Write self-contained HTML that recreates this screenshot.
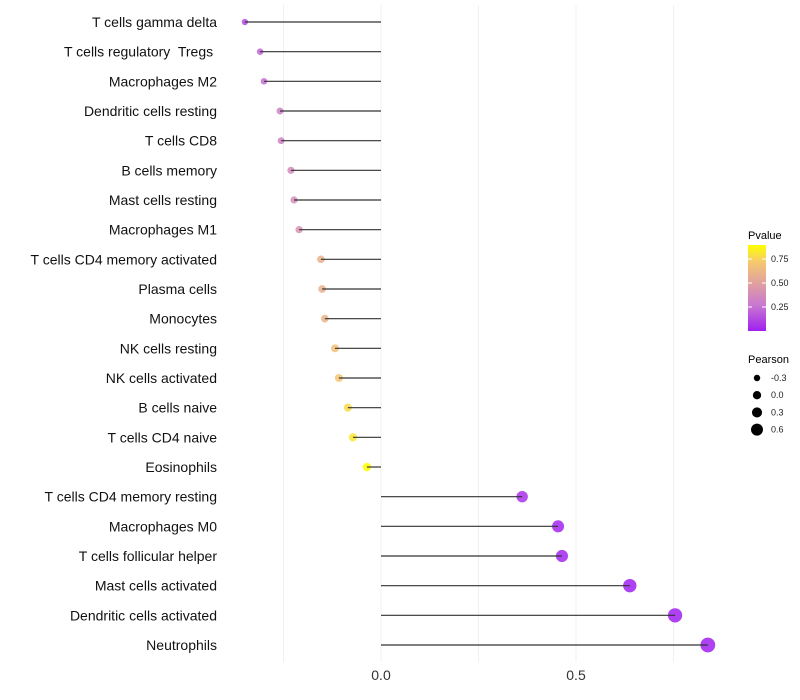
<!DOCTYPE html>
<html><head><meta charset="utf-8"><style>
body{margin:0;background:#fff;font-family:"Liberation Sans",sans-serif}
svg{display:block}
#ylabels text{white-space:pre}
</style></head><body>
<svg id="chart" width="800" height="700">
<defs><linearGradient id="pg" x1="0" y1="1" x2="0" y2="0">
<stop offset="0" stop-color="#a020f0"/><stop offset="0.3" stop-color="#c878d0"/><stop offset="0.55" stop-color="#e0a0a0"/><stop offset="0.8" stop-color="#f5c870"/><stop offset="1" stop-color="#ffff00"/></linearGradient></defs>
<g id="grid"></g>
<g id="marks"></g>
<g id="ylabels"></g>
<g id="xlabels"></g>
<g>
<text x="748" y="239" font-size="11">Pvalue</text>
<rect x="748" y="245" width="18" height="86" fill="url(#pg)"/>
<g id="cbticks"></g>
</g>
<g id="sizeleg">
<text x="748" y="363" font-size="11">Pearson</text>
</g>
</svg>
<script>
const categories=["T cells gamma delta","T cells regulatory  Tregs ","Macrophages M2","Dendritic cells resting","T cells CD8","B cells memory","Mast cells resting","Macrophages M1","T cells CD4 memory activated","Plasma cells","Monocytes","NK cells resting","NK cells activated","B cells naive","T cells CD4 naive","Eosinophils","T cells CD4 memory resting","Macrophages M0","T cells follicular helper","Mast cells activated","Dendritic cells activated","Neutrophils"];
const pearson=[-0.349,-0.310,-0.300,-0.259,-0.256,-0.231,-0.223,-0.210,-0.154,-0.151,-0.144,-0.118,-0.108,-0.085,-0.072,-0.036,0.362,0.454,0.464,0.638,0.754,0.838];
const pvalues=[0.12,0.2,0.22,0.3,0.3,0.36,0.37,0.4,0.58,0.58,0.6,0.68,0.7,0.78,0.82,0.95,0.05,0.02,0.02,0.002,0.0005,0.0001];
const xTicks=[0,0.5];
const gridTicks=[-0.25,0,0.25,0.5,0.75];
const cbTicks=[0.25,0.5,0.75];
const sizeLegend=[-0.3,0.0,0.3,0.6];
const NS="http://www.w3.org/2000/svg";
const x=v=>381+v*390;
const y=i=>22+i*(623/21);
const r=v=>Math.max(1.6,4.4+v*3.6);
const cbY=p=>331-p*96;
const stops=[[0,[160,32,240]],[0.27,[205,125,205]],[0.49,[228,160,160]],[0.72,[245,200,112]],[0.896,[255,255,0]]];
function col(p){p=Math.min(p,0.896);for(let k=1;k<stops.length;k++){if(p<=stops[k][0]){const a=stops[k-1],b=stops[k],t=(p-a[0])/(b[0]-a[0]);return "rgb("+a[1].map((c,j)=>Math.round(c+(b[1][j]-c)*t)).join(",")+")";}}return "rgb(255,255,0)";}
function mk(tag,at,parent){const e=document.createElementNS(NS,tag);for(const k in at)e.setAttribute(k,at[k]);parent.appendChild(e);return e;}
const G=document.getElementById("grid"),M=document.getElementById("marks"),YL=document.getElementById("ylabels"),XL=document.getElementById("xlabels");
gridTicks.forEach(t=>{const l=mk("line",{x1:x(t),x2:x(t),y1:5,y2:662,stroke:"#f0f0f0","stroke-width":1},G);

});
categories.forEach((c,i)=>{
const cy=y(i);
const dot=mk("circle",{cx:x(pearson[i]),cy:cy,r:r(pearson[i]),fill:col(pvalues[i]),"fill-opacity":0.85},M);


const ln=mk("line",{x1:x(0),x2:x(pearson[i]),y1:cy,y2:cy,stroke:"#333","stroke-width":1.2},M);


const t=mk("text",{x:217,y:cy+5,"text-anchor":"end","font-size":14,fill:"#111"},YL);t.textContent=c;


});
xTicks.forEach(v=>{const t=mk("text",{x:x(v),y:680,"text-anchor":"middle","font-size":14,fill:"#333"},XL);t.textContent=v.toFixed(1);

});
const CB=document.getElementById("cbticks");
cbTicks.forEach(p=>{mk("line",{x1:748,x2:752,y1:cbY(p),y2:cbY(p),stroke:"#fff"},CB);mk("line",{x1:762,x2:766,y1:cbY(p),y2:cbY(p),stroke:"#fff"},CB);
const t=mk("text",{x:771,y:cbY(p)+3,"font-size":9,fill:"#222"},CB);t.textContent=p.toFixed(2);

});
const SL=document.getElementById("sizeleg");
sizeLegend.forEach((v,k)=>{const cy=378+k*17.2;
const c=mk("circle",{cx:757,cy:cy,r:r(v)*0.85+0.4,fill:"#000"},SL);


const t=mk("text",{x:771,y:cy+3,"font-size":9,fill:"#222"},SL);t.textContent=v.toFixed(1);

});
</script>
</body></html>
